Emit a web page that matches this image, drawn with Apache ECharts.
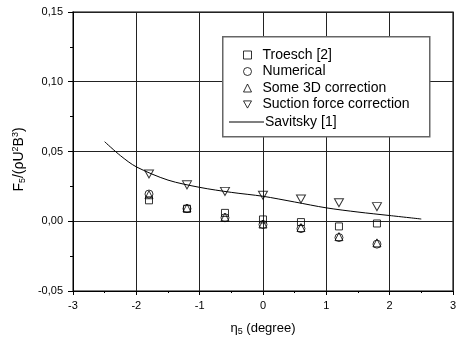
<!DOCTYPE html>
<html><head><meta charset="utf-8">
<script src="https://cdn.jsdelivr.net/npm/echarts@6/dist/echarts.min.js"></script>
<style>html,body{margin:0;padding:0;background:#fff}#c{width:459px;height:341px}</style>
</head><body><div id="c"></div>
<script>
var xPts = [-1.8, -1.2, -0.6, 0, 0.6, 1.2, 1.8];
var troesch = [0.015, 0.009, 0.006, 0.0013, -0.0006, -0.0037, -0.0016];
var numerical = [0.0195, 0.009, 0.0025, -0.0023, -0.0053, -0.0117, -0.0164];
var some3d = [0.019, 0.0095, 0.003, -0.002, -0.0045, -0.011, -0.0155];
var suction = [0.0339, 0.0261, 0.0214, 0.0186, 0.016, 0.0133, 0.0105];
var savX = [-2.5, -2.25, -2, -1.5, -1, -0.5, 0, 0.5, 1, 1.5, 2, 2.5];
var savY = [0.057, 0.047, 0.039, 0.0295, 0.0243, 0.0207, 0.0179, 0.0138, 0.0096, 0.0066, 0.0041, 0.0016];
var xTicks = [-3, -2, -1, 0, 1, 2, 3];
var yTicks = [-0.05, 0, 0.05, 0.10, 0.15];
var names = ['Troesch [2]', 'Numerical', 'Some 3D correction', 'Suction force correction', 'Savitsky [1]'];

function pairs(xs, ys) { return xs.map(function (x, i) { return [x, ys[i]]; }); }
var FONT = 'Liberation Sans';
var hollow = { color: 'rgba(0,0,0,0)', borderColor: '#000', borderWidth: 1 };
var downTri = 'path://M0,0 L10,0 L5,9 Z';

var chart = echarts.init(document.getElementById('c'), null, { renderer: 'canvas' });
chart.setOption({
  animation: false,
  backgroundColor: '#fff',
  textStyle: { fontFamily: FONT },
  grid: { left: 73, right: 5, top: 12, bottom: 47, show: true, borderColor: '#555', borderWidth: 1.5 },
  xAxis: {
    type: 'value', min: -3, max: 3, interval: 1,
    name: 'η{sub|5} (degree)', nameLocation: 'middle', nameGap: 29,
    nameTextStyle: { fontFamily: FONT, fontSize: 13, color: '#000', rich: { sub: { fontSize: 9, padding: [7, 0, 0, 0], fontFamily: FONT } } },
    axisLine: { onZero: false, lineStyle: { color: '#000', width: 1 } },
    axisTick: { show: true, inside: false, length: 4, lineStyle: { color: '#000' } },
    minorTick: { show: true, splitNumber: 2, length: 2, lineStyle: { color: '#000' } },
    splitLine: { show: true, lineStyle: { color: '#222', width: 1 } },
    axisLabel: { fontFamily: FONT, fontSize: 11, color: '#000', margin: 9, formatter: function (v) { return String(v); } }
  },
  yAxis: {
    type: 'value', min: -0.05, max: 0.15, interval: 0.05,
    name: 'F{sub|5}/(ρU{sup|2}B{sup|3})', nameLocation: 'middle', nameGap: 35, nameRotate: 90,
    nameTextStyle: { fontFamily: FONT, fontSize: 14, color: '#000', padding: [0, 16, 0, 0], rich: {
      sub: { fontSize: 9, padding: [7, 0, 0, 0], fontFamily: FONT },
      sup: { fontSize: 9, padding: [0, 0, 7, 0], fontFamily: FONT } } },
    axisLine: { onZero: false, lineStyle: { color: '#000', width: 1 } },
    axisTick: { show: true, inside: false, length: 5, lineStyle: { color: '#000' } },
    minorTick: { show: true, splitNumber: 2, length: 3, lineStyle: { color: '#000' } },
    splitLine: { show: true, lineStyle: { color: '#222', width: 1 } },
    axisLabel: { fontFamily: FONT, fontSize: 11, color: '#000', margin: 10,
      formatter: function (v) { return v.toFixed(2).replace('.', ','); } }
  },
  graphic: [{
    type: 'rect', left: 222, top: 36, z: 50,
    shape: { width: 207, height: 100 },
    style: { fill: '#fff', stroke: '#666', lineWidth: 1.5 }
  }],
  legend: [{
    data: names.slice(0, 4), orient: 'vertical', left: 238, top: 43, z: 60,
    itemWidth: 8, itemHeight: 8, itemGap: 2.5,
    itemStyle: { borderWidth: 1, borderColor: '#000', color: 'rgba(0,0,0,0)' },
    textStyle: { fontFamily: FONT, fontSize: 14, color: '#000', padding: [0, 0, 0, 6] },
    selectedMode: false
  }, {
    data: [{ name: names[4], icon: 'rect' }], orient: 'vertical', left: 224, top: 110, z: 60,
    itemWidth: 35, itemHeight: 1, itemGap: 4,
    itemStyle: { color: '#000', borderWidth: 0 },
    textStyle: { fontFamily: FONT, fontSize: 14, color: '#000', padding: [0, 0, 0, -4] },
    selectedMode: false
  }],
  series: [
    { name: names[0], type: 'scatter', data: pairs(xPts, troesch), symbol: 'rect', symbolSize: 7, itemStyle: hollow, z: 5 },
    { name: names[1], type: 'scatter', data: pairs(xPts, numerical), symbol: 'circle', symbolSize: 8, itemStyle: hollow, z: 5 },
    { name: names[2], type: 'scatter', data: pairs(xPts, some3d), symbol: 'triangle', symbolSize: 8, itemStyle: hollow, z: 5 },
    { name: names[3], type: 'scatter', data: pairs(xPts, suction), symbol: downTri, symbolSize: [9, 8], itemStyle: hollow, z: 5 },
    { name: names[4], type: 'line', data: pairs(savX, savY), smooth: 0.3, showSymbol: false, symbol: 'none',
      lineStyle: { color: '#000', width: 1 }, itemStyle: { color: '#000' }, z: 4 }
  ]
});
</script></body></html>
